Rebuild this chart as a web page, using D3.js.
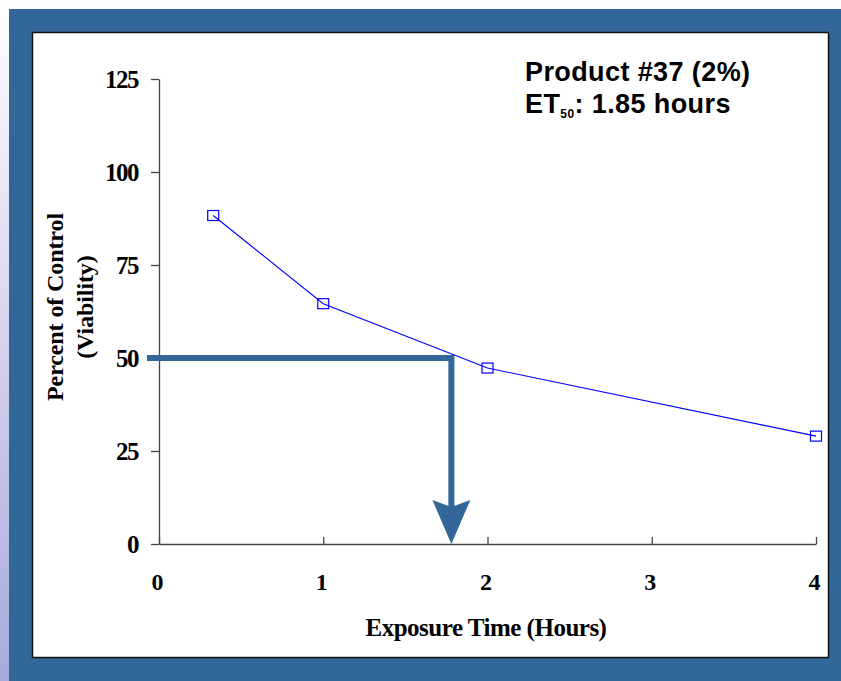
<!DOCTYPE html>
<html>
<head>
<meta charset="utf-8">
<script src="https://cdn.jsdelivr.net/npm/d3@7"></script>
<style>
  html, body { margin: 0; padding: 0; background: #fff; }
  svg { display: block; }
</style>
</head>
<body>
<svg id="chart" width="841" height="681"></svg>
<script>
// data
const hours = [0.33, 1, 2, 4];
const viability = [88.3, 64.6, 47.3, 29.0];
const xTicks = [0, 1, 2, 3, 4];
const yTicks = [0, 25, 50, 75, 100, 125];
const et50Marker = [1.78, 50]; // where the arrow is drawn
const titleLines = ["Product #37 (2%)", "ET", "50", ": 1.85 hours"];

const svg = d3.select("#chart");
const W = +svg.attr("width");
const H = +svg.attr("height");
const blue = "#336699";

// background: lavender fade on the left/top edge, blue slide, white panel
const defs = svg.append("defs");
const grad = defs.append("linearGradient")
    .attr("id", "bgfade").attr("x1", 0).attr("y1", 0).attr("x2", 0).attr("y2", 1);
grad.append("stop").attr("offset", "0%").attr("stop-color", "#ffffff");
grad.append("stop").attr("offset", "100%").attr("stop-color", "#a8a8dc");

svg.append("rect").attr("width", W).attr("height", H).attr("fill", "url(#bgfade)");
svg.append("rect").attr("x", 9).attr("y", 9).attr("width", W - 9).attr("height", H - 9).attr("fill", blue);
svg.append("rect")
    .attr("x", 32.5).attr("y", 32.5).attr("width", 796).attr("height", 625)
    .attr("fill", "#fff").attr("stroke", "#111").attr("stroke-width", 1.5);

// scales
const x = d3.scaleLinear().domain([0, 4]).range([159, 816]);
const y = d3.scaleLinear().domain([0, 125]).range([544, 79]);

const serif = "'Liberation Serif', 'Times New Roman', serif";
const sans = "'Liberation Sans', Arial, sans-serif";

// y axis
const gy = svg.append("g")
    .attr("transform", `translate(${x(0)},0)`)
    .call(d3.axisLeft(y).tickValues(yTicks).tickSize(8).tickPadding(13).tickSizeOuter(0));
gy.select(".domain").attr("stroke", "#444").attr("stroke-width", 1.3);
gy.selectAll(".tick line").attr("stroke", "#444").attr("stroke-width", 1.3);
gy.selectAll(".tick text")
    .attr("font-family", serif).attr("font-weight", "bold").attr("font-size", 25)
    .attr("fill", "#000").attr("letter-spacing", -1.5);

// x axis, ticks point inward
const gx = svg.append("g")
    .attr("transform", `translate(0,${y(0)})`)
    .call(d3.axisBottom(x).tickValues(xTicks).tickFormat(d3.format("d")).tickSize(-7).tickSizeOuter(0).tickPadding(0));
gx.select(".domain").attr("stroke", "#444").attr("stroke-width", 1.3);
gx.selectAll(".tick line").attr("stroke", "#444").attr("stroke-width", 1.3);
gx.selectAll(".tick text")
    .attr("y", 46).attr("dy", 0).attr("dx", -2)
    .attr("font-family", serif).attr("font-weight", "bold").attr("font-size", 24)
    .attr("fill", "#000");

// axis titles
svg.append("text")
    .attr("x", 486).attr("y", 636).attr("text-anchor", "middle")
    .attr("font-family", serif).attr("font-weight", "bold").attr("font-size", 25)
    .attr("letter-spacing", -0.5)
    .text("Exposure Time (Hours)");

const yTitle = svg.append("text")
    .attr("transform", "translate(0,307) rotate(-90)")
    .attr("text-anchor", "middle")
    .attr("font-family", serif).attr("font-weight", "bold").attr("font-size", 24)
    .attr("letter-spacing", -0.1);
yTitle.append("tspan").attr("x", 0).attr("y", 63).text("Percent of Control");
yTitle.append("tspan").attr("x", 0).attr("y", 93).text("(Viability)");

// data line + hollow square markers
const pts = hours.map((h, i) => [h, viability[i]]);
svg.append("path")
    .datum(pts)
    .attr("fill", "none").attr("stroke", "#0000ff").attr("stroke-width", 1.1)
    .attr("d", d3.line().x(d => x(d[0])).y(d => y(d[1])));
svg.selectAll("rect.marker")
    .data(pts)
    .join("rect")
    .attr("class", "marker")
    .attr("x", d => x(d[0]) - 5.5).attr("y", d => y(d[1]) - 5)
    .attr("width", 11).attr("height", 10)
    .attr("fill", "none").attr("stroke", "#0000ff").attr("stroke-width", 1.2);

// ET50 arrow
const ax = x(et50Marker[0]);
const ay = y(et50Marker[1]);
svg.append("path")
    .attr("d", `M${x(0) - 12},${ay} H${ax} V${y(0) - 36}`)
    .attr("fill", "none").attr("stroke", blue).attr("stroke-width", 6);
svg.append("path")
    .attr("d", `M${ax - 19},${y(0) - 44} L${ax},${y(0) - 37} L${ax + 19},${y(0) - 44} L${ax},${y(0)} Z`)
    .attr("fill", blue);

// title block
svg.append("text")
    .attr("x", 525).attr("y", 81)
    .attr("font-family", sans).attr("font-weight", "bold").attr("font-size", 27)
    .attr("letter-spacing", 0.4)
    .text(titleLines[0]);
const t2 = svg.append("text")
    .attr("x", 525).attr("y", 113)
    .attr("font-family", sans).attr("font-weight", "bold").attr("font-size", 27)
    .attr("letter-spacing", 0.4);
t2.append("tspan").text(titleLines[1]);
t2.append("tspan").attr("font-size", 12).attr("dy", 5).text(titleLines[2]);
t2.append("tspan").attr("dy", -5).text(titleLines[3]);
</script>
</body>
</html>
